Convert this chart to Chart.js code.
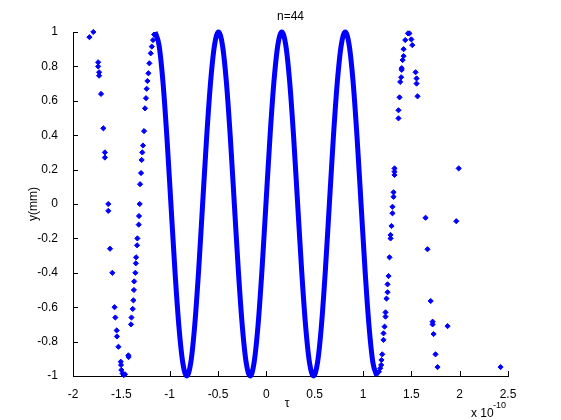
<!DOCTYPE html>
<html>
<head>
<meta charset="utf-8">
<title>n=44</title>
<script src="https://cdn.jsdelivr.net/npm/chart.js@4/dist/chart.umd.min.js"></script>
<style>
  html, body { margin: 0; padding: 0; background: #fff; }
</style>
</head>
<body>
<canvas id="chart" width="561" height="420"></canvas>
<script>
// ─── DATA (tau in units of 1e-10) ──────────────────────────
const TITLE   = 'n=44';
const X_LABEL = '\u03c4';
const Y_LABEL = 'y(mm)';

const xTicks = [-2, -1.5, -1, -0.5, 0, 0.5, 1, 1.5, 2, 2.5];
const yTicks = [-1, -0.8, -0.6, -0.4, -0.2, 0, 0.2, 0.4, 0.6, 0.8, 1];

// densely sampled middle part (reads as a solid curve)
const denseTau = [
  -1.151, -1.110, -1.069, -1.028, -0.987, -0.946, -0.905, -0.864, -0.823,
  -0.782, -0.741, -0.700, -0.659, -0.618, -0.577, -0.536, -0.495,
  -0.454, -0.413, -0.372, -0.331, -0.290, -0.249, -0.208, -0.167,
  -0.127, -0.086, -0.045, -0.004, 0.037, 0.078, 0.119, 0.160,
  0.201, 0.242, 0.283, 0.324, 0.365, 0.406, 0.447, 0.488,
  0.529, 0.570, 0.611, 0.652, 0.693, 0.734, 0.775, 0.816,
  0.857, 0.898, 0.939, 0.980, 1.021, 1.062, 1.103, 1.144
];
const denseY = [
  1, 0.924, 0.707, 0.383, 0, -0.383, -0.707, -0.924, -1,
  -0.924, -0.707, -0.383, 0, 0.383, 0.707, 0.924, 1,
  0.924, 0.707, 0.383, 0, -0.383, -0.707, -0.924, -1,
  -0.924, -0.707, -0.383, 0, 0.383, 0.707, 0.924, 1,
  0.924, 0.707, 0.383, 0, -0.383, -0.707, -0.924, -1,
  -0.924, -0.707, -0.383, 0, 0.383, 0.707, 0.924, 1,
  0.924, 0.707, 0.383, 0, -0.383, -0.707, -0.924, -1
];

// sparse samples at both ends
const sparseTau = [
  -1.83, -1.79, -1.74, -1.74, -1.73, -1.73, -1.71, -1.686, -1.67, -1.67,
  -1.635, -1.635, -1.617, -1.593, -1.57, -1.562, -1.548, -1.545, -1.53, -1.506, -1.503, -1.50, -1.487, -1.475, -1.462, -1.427, -1.425,
  -1.40, -1.395, -1.382, -1.375, -1.37, -1.367, -1.355, -1.35, -1.347, -1.337, -1.334, -1.32, -1.317, -1.31,
  -1.306, -1.296, -1.29, -1.283, -1.276, -1.265, -1.255, -1.245, -1.238, -1.23, -1.22, -1.21, -1.196, -1.185, -1.172, -1.16,
  1.165, 1.178, 1.188, 1.191, 1.199, 1.212, 1.212, 1.223, 1.233, 1.233, 1.243, 1.254, 1.254, 1.264, 1.274, 1.285, 1.285, 1.295, 1.305, 1.305, 1.316, 1.316, 1.326, 1.326, 1.326,
  1.367, 1.367, 1.378, 1.385, 1.395, 1.40, 1.40, 1.41, 1.42, 1.42, 1.437, 1.465, 1.48, 1.50, 1.51, 1.544, 1.554, 1.554, 1.564,
  1.647, 1.667, 1.70, 1.72, 1.72, 1.73, 1.75, 1.771, 1.875, 1.965, 1.99, 2.423
];
const sparseY = [
  0.97, 1.0, 0.824, 0.80, 0.766, 0.746, 0.64, 0.44, 0.30, 0.27,
  0.0, -0.04, -0.26, -0.40, -0.60, -0.66, -0.735, -0.77, -0.83, -0.917, -0.936, -0.965, -0.985, -0.995, -0.99, -0.88, -0.89,
  -0.70, -0.66, -0.61, -0.56, -0.50, -0.45, -0.40, -0.345, -0.31, -0.24, -0.20, -0.12, -0.07, 0.0,
  0.115, 0.18, 0.256, 0.30, 0.34, 0.424, 0.556, 0.615, 0.67, 0.715, 0.76, 0.818, 0.876, 0.915, 0.953, 0.985,
  -0.975, -0.955, -0.936, -0.907, -0.874, -0.79, -0.752, -0.713, -0.655, -0.63, -0.55, -0.513, -0.467, -0.419, -0.31, -0.20, -0.18, -0.128, -0.054, -0.016, 0.042, 0.068, 0.169, 0.188, 0.207,
  0.498, 0.545, 0.62, 0.71, 0.737, 0.78, 0.79, 0.837, 0.86, 0.90, 0.953, 0.992, 0.992, 0.957, 0.924, 0.766, 0.73, 0.70, 0.626,
  -0.08, -0.263, -0.564, -0.684, -0.70, -0.756, -0.874, -0.948, -0.71, -0.10, 0.207, -0.948
];

// ─── STYLE ─────────────────────────────────────────────────
const BLUE     = '#0000ff';
const FAMILY   = '"Liberation Sans", Arial, Helvetica, sans-serif';
const TICK_LEN = 5;
const font = size => `${size}px ${FAMILY}`;

const toPoints = (xs, ys) => xs.map((x, i) => ({ x, y: ys[i] }));

// MATLAB-like axes: inward ticks, title, labels, exponent
const matlabAxes = {
  id: 'matlabAxes',
  afterDraw(chart) {
    const { ctx, chartArea: a, scales: { x, y } } = chart;
    ctx.save();
    ctx.strokeStyle = '#000';
    ctx.lineWidth = 1;
    ctx.beginPath();
    xTicks.forEach(v => {
      const px = Math.round(x.getPixelForValue(v)) + 0.5;
      ctx.moveTo(px, a.bottom);
      ctx.lineTo(px, a.bottom - TICK_LEN);
    });
    yTicks.forEach(v => {
      const py = Math.round(y.getPixelForValue(v)) + 0.5;
      ctx.moveTo(a.left, py);
      ctx.lineTo(a.left + TICK_LEN, py);
    });
    ctx.stroke();

    ctx.fillStyle = '#000';
    ctx.font = font(12);
    ctx.textAlign = 'center';
    ctx.textBaseline = 'alphabetic';
    ctx.fillText(TITLE, (a.left + a.right) / 2, 20);
    ctx.fillText(X_LABEL, 287, 407);

    ctx.textAlign = 'left';
    ctx.fillText('x 10', 471, 417);
    ctx.font = font(9);
    ctx.fillText('-10', 493, 408);

    ctx.font = font(12);
    ctx.translate(34, 204);
    ctx.rotate(-Math.PI / 2);
    ctx.textAlign = 'center';
    ctx.textBaseline = 'middle';
    ctx.fillText(Y_LABEL, 0, 0);
    ctx.restore();
  }
};

new Chart(document.getElementById('chart'), {
  type: 'scatter',
  data: {
    datasets: [
      {
        data: toPoints(denseTau, denseY),
        showLine: true,
        borderColor: BLUE,
        borderWidth: 5,
        cubicInterpolationMode: 'monotone',
        pointRadius: 0,
        clip: 6,
      },
      {
        data: toPoints(sparseTau, sparseY),
        pointStyle: 'rectRot',
        pointRadius: 2.6,
        pointBorderWidth: 1,
        backgroundColor: BLUE,
        borderColor: BLUE,
        clip: 6,
      },
    ],
  },
  options: {
    responsive: false,
    devicePixelRatio: 1,
    animation: false,
    layout: { padding: { top: 32, right: 53, left: 0, bottom: 0 } },
    plugins: { legend: { display: false }, tooltip: { enabled: false } },
    scales: {
      x: {
        type: 'linear',
        min: -2, max: 2.5,
        afterFit: s => { s.height = 44; },
        afterBuildTicks: s => { s.ticks = xTicks.map(value => ({ value })); },
        grid: { display: false },
        border: { display: true, color: '#000', width: 1 },
        ticks: { autoSkip: false, maxRotation: 0, padding: 3, color: '#000', font: { family: FAMILY, size: 12 }, callback: v => String(v) },
      },
      y: {
        type: 'linear',
        min: -1, max: 1,
        afterFit: s => { s.width = 73; },
        afterBuildTicks: s => { s.ticks = yTicks.map(value => ({ value })); },
        grid: { display: false },
        border: { display: true, color: '#000', width: 1 },
        ticks: { autoSkip: false, padding: 7, color: '#000', font: { family: FAMILY, size: 12 }, callback: v => String(+v.toFixed(1)) },
      },
    },
  },
  plugins: [matlabAxes],
});
</script>
</body>
</html>
